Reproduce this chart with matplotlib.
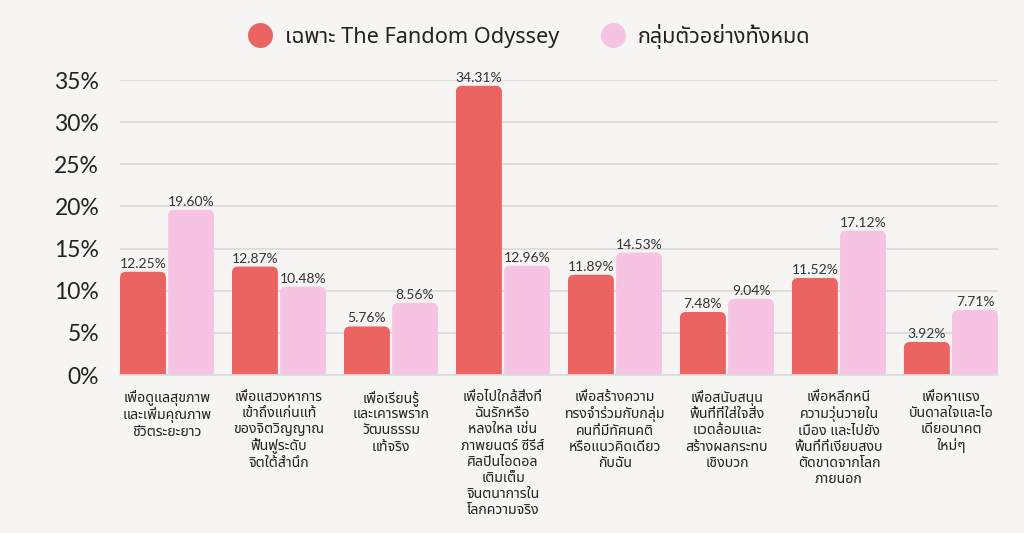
import matplotlib
matplotlib.use("Agg")
import numpy as np
import matplotlib.pyplot as plt
from matplotlib.patches import FancyBboxPatch
from matplotlib.lines import Line2D

# ข้อมูล
categories = [
    "เพื่อดูแลสุขภาพ\nและเพิ่มคุณภาพ\nชีวิตระยะยาว",
    "เพื่อแสวงหาการ\nเข้าถึงแก่นแท้\nของจิตวิญญาณ\nฟื้นฟูระดับ\nจิตใต้สำนึก",
    "เพื่อเรียนรู้\nและเคารพราก\nวัฒนธรรม\nแท้จริง",
    "เพื่อไปใกล้สิ่งที่\nฉันรักหรือ\nหลงใหล เช่น\nภาพยนตร์ ซีรีส์\nศิลปินไอดอล\nเติมเต็ม\nจินตนาการใน\nโลกความจริง",
    "เพื่อสร้างความ\nทรงจำร่วมกับกลุ่ม\nคนที่มีทัศนคติ\nหรือแนวคิดเดียว\nกับฉัน",
    "เพื่อสนับสนุน\nพื้นที่ที่ใส่ใจสิ่ง\nแวดล้อมและ\nสร้างผลกระทบ\nเชิงบวก",
    "เพื่อหลีกหนี\nความวุ่นวายใน\nเมือง และไปยัง\nพื้นที่ที่เงียบสงบ\nตัดขาดจากโลก\nภายนอก",
    "เพื่อหาแรง\nบันดาลใจและไอ\nเดียอนาคต\nใหม่ๆ",
]
series_names = ["เฉพาะ The Fandom Odyssey", "กลุ่มตัวอย่างทั้งหมด"]
fandom = [12.25, 12.87, 5.76, 34.31, 11.89, 7.48, 11.52, 3.92]
overall = [19.60, 10.48, 8.56, 12.96, 14.53, 9.04, 17.12, 7.71]
yticks = [0, 5, 10, 15, 20, 25, 30, 35]

RED = "#EC6461"
PINK = "#F6C3E3"
BG = "#F6F5F3"
TXT = "#222222"
NUMFONT = ["Lato", "DejaVu Sans"]

plt.rcParams["font.family"] = ["Noto Sans Thai", "Noto Sans", "DejaVu Sans"]

fig = plt.figure(figsize=(10.24, 5.33), dpi=100, facecolor=BG)
ax = fig.add_axes([0.1172, 0.2964, 0.8574, 0.5535], facecolor=BG)

x = np.arange(len(categories))
w = 0.41
off = 0.215
ax.set_xlim(-0.42, len(categories) - 1 + 0.42)
ax.set_ylim(0, 35)

# px -> data
px_x = 0.8574 * 1024 / (ax.get_xlim()[1] - ax.get_xlim()[0])
px_y = 0.5535 * 533 / 35.0
r = 6 / px_x
aspect = px_x / px_y

for vals, dx, col in [(fandom, -off, RED), (overall, off, PINK)]:
    for xi, v in zip(x, vals):
        # ขยายลงใต้ 0 เพื่อให้มุมล่างถูกตัดออก มนเฉพาะมุมบน
        extra = 8 / px_y
        p = FancyBboxPatch((xi + dx - w / 2, -extra), w, v + extra,
                           boxstyle="round,pad=0,rounding_size=%f" % r,
                           mutation_aspect=aspect, fc=col, ec="none", zorder=3)
        ax.add_patch(p)
        ax.text(xi + dx, v + 2 / px_y, "%.2f%%" % v, ha="center", va="bottom",
                fontsize=10, color="#333333", family=NUMFONT,
                zorder=4, clip_on=False)

ax.set_yticks(yticks)
ax.set_yticklabels(["%d%%" % t for t in yticks], fontsize=16.5, color=TXT,
                   family=NUMFONT)
ax.yaxis.grid(True, color="#DCDCDC", linewidth=1.3, zorder=0)
ax.set_axisbelow(True)
ax.tick_params(axis="y", length=0, pad=15)
ax.set_xticks(x)
ax.set_xticklabels(categories, fontsize=10.2, color=TXT, linespacing=1.1, va="top")
ax.tick_params(axis="x", length=0, pad=11)
for s in ["top", "right", "left"]:
    ax.spines[s].set_visible(False)
ax.spines["bottom"].set_color("#DCDCDC")
ax.spines["bottom"].set_linewidth(1.3)
ax.spines["bottom"].set_zorder(5)

handles = [Line2D([], [], marker="o", ls="none", ms=18, mfc=RED, mec="none"),
           Line2D([], [], marker="o", ls="none", ms=18, mfc=PINK, mec="none")]
fig.legend(handles, series_names, loc="center", bbox_to_anchor=(0.512, 0.932), ncol=2,
           frameon=False, fontsize=15.6, handletextpad=0.15, columnspacing=1.5,
           labelcolor=TXT)

fig.savefig("out.png", dpi=100, facecolor=BG)
